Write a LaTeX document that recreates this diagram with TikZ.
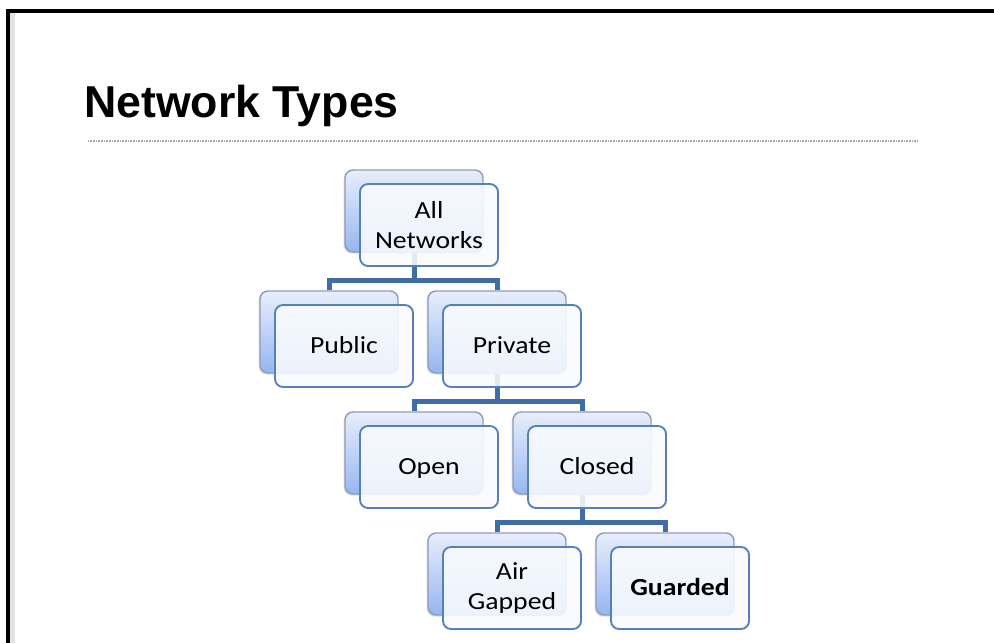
\documentclass[tikz,border=0pt]{standalone}
\usepackage{fontspec}
\usetikzlibrary{shadows}
\newfontfamily\titlefont{Liberation Sans}
\newfontfamily\boxfont[FakeStretch=1.13]{Carlito}
\definecolor{connblue}{RGB}{66,108,166}
\definecolor{frontedge}{RGB}{88,128,184}
\definecolor{backedge}{RGB}{140,158,188}
\definecolor{backtop}{RGB}{232,238,251}
\definecolor{backbot}{RGB}{150,182,240}
\definecolor{frontfill}{RGB}{249,251,254}
\tikzset{
  backbox/.style={draw=backedge, line width=1.1pt, rounded corners=6pt,
    minimum width=103.5pt, minimum height=61.5pt, inner sep=0pt,
    top color=backtop, bottom color=backbot,
    drop shadow={shadow xshift=-1pt, shadow yshift=-1.2pt, opacity=0.25}},
  frontbox/.style={draw=frontedge, line width=1.4pt, rounded corners=6pt,
    minimum width=103.5pt, minimum height=61.5pt, inner sep=0pt,
    fill=frontfill, fill opacity=0.88, text opacity=1, align=center,
    font=\boxfont\fontsize{18.4pt}{23pt}\selectfont},
  oneline/.style={text height=11.8pt, text depth=0pt},
  conn/.style={draw=connblue, line width=3.75pt, line join=miter},
  titletext/.style={anchor=base west, inner sep=0pt,
    font=\titlefont\bfseries\fontsize{33.5pt}{40pt}\selectfont},
}
\begin{document}
\begin{tikzpicture}[x=0.75pt,y=-0.75pt]
\useasboundingbox (0,0) rectangle (994,642);
\fill[white] (0,0) rectangle (994,642);
% frame
\fill[gray!22] (10,13) rectangle (15,650);
\draw[line width=3pt, line cap=rect] (1000,11) -- (8,11) -- (8,650);
% title
\node[titletext] (title) at (84,117) {Network Types};
\coordinate (rl) at (88,141);
\coordinate (rr) at (917,141);
\draw[gray!70, line width=0.9pt, dash pattern=on 0.6pt off 0.6pt] (rl) -- (rr);
% back boxes
\node[backbox] (anB)  at (414,211) {};
\node[backbox] (pubB) at (329,332) {};
\node[backbox] (prvB) at (497,332) {};
\node[backbox] (opB)  at (414,453) {};
\node[backbox] (clB)  at (582,453) {};
\node[backbox] (airB) at (497,574) {};
\node[backbox] (guB)  at (665,574) {};
% connectors
\draw[conn] (anB.south) -- ++(0,28) coordinate (h1);
\draw[conn] (pubB.north) |- (h1) -| (prvB.north);
\draw[conn] (prvB.south) -- ++(0,28) coordinate (h2);
\draw[conn] (opB.north) |- (h2) -| (clB.north);
\draw[conn] (clB.south) -- ++(0,28) coordinate (h3);
\draw[conn] (airB.north) |- (h3) -| (guB.north);
% front boxes
\node[frontbox] (anF)  at (429,225) {All\\Networks};
\node[frontbox, oneline] (pubF) at (344,346) {Public};
\node[frontbox, oneline] (prvF) at (512,346) {Private};
\node[frontbox, oneline] (opF)  at (429,467) {Open};
\node[frontbox, oneline] (clF)  at (597,467) {Closed};
\node[frontbox] (airF) at (512,588) {Air\\Gapped};
\node[frontbox, oneline] (guF)  at (680,588) {\bfseries Guarded};
\end{tikzpicture}
\end{document}
